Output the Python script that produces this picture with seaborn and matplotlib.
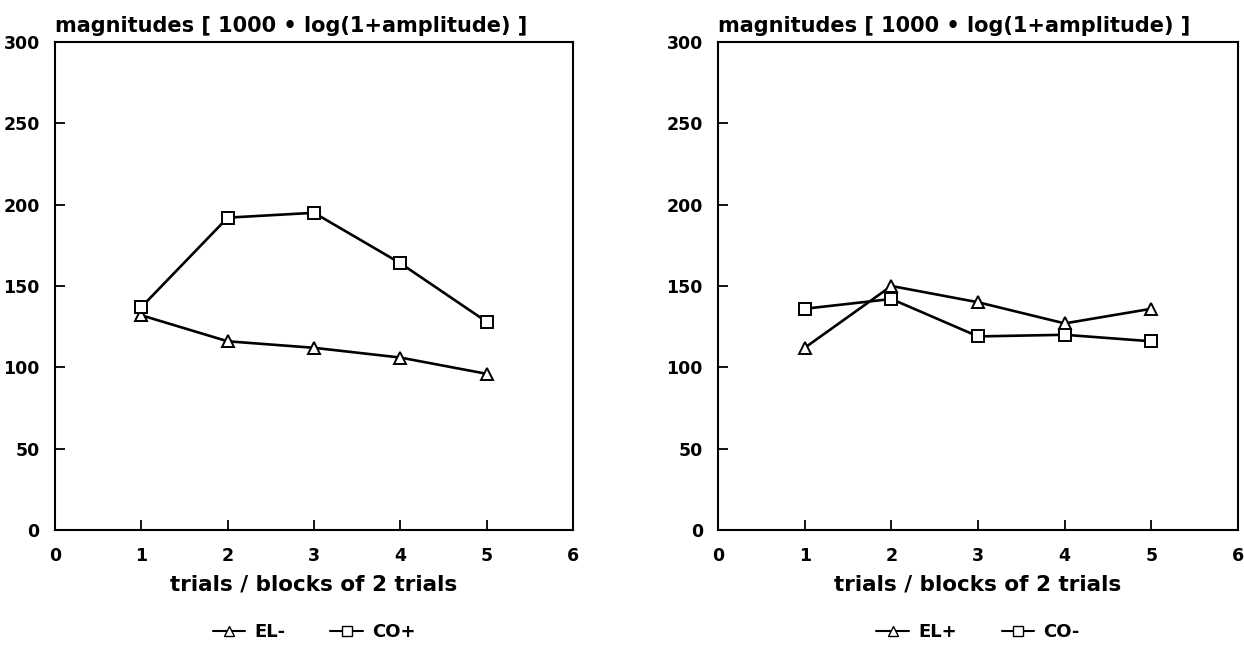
import numpy as np
import pandas as pd
import matplotlib
matplotlib.use("Agg")
import matplotlib.pyplot as plt
import seaborn as sns
from matplotlib.lines import Line2D

trials = [1, 2, 3, 4, 5]
left_el_minus = [132, 116, 112, 106, 96]
left_co_plus = [137, 192, 195, 164, 128]
right_el_plus = [112, 150, 140, 127, 136]
right_co_minus = [136, 142, 119, 120, 116]
x_ticks = [0, 1, 2, 3, 4, 5, 6]
y_ticks = [0, 50, 100, 150, 200, 250, 300]
title = "magnitudes [ 1000 \u2022 log(1+amplitude) ]"
xlabel = "trials / blocks of 2 trials"

sns.set_theme(style="white")
plt.rcParams['font.family'] = ['DejaVu Sans']
plt.rcParams['font.weight'] = 'bold'
plt.rcParams['text.color'] = 'black'
plt.rcParams['xtick.color'] = 'black'
plt.rcParams['ytick.color'] = 'black'
plt.rcParams['axes.labelcolor'] = 'black'

fig = plt.figure(figsize=(12.44, 6.51), dpi=100)
axL = fig.add_axes([0.0442, 0.1859, 0.4164, 0.7496])
axR = fig.add_axes([0.5772, 0.1859, 0.4180, 0.7496])

panels = [
    (axL, [("EL-", left_el_minus), ("CO+", left_co_plus)]),
    (axR, [("EL+", right_el_plus), ("CO-", right_co_minus)]),
]

for ax, series in panels:
    rows = []
    for name, vals in series:
        for t, v in zip(trials, vals):
            rows.append({"trial": t, "value": v, "series": name})
    df = pd.DataFrame(rows)
    names = [s[0] for s in series]
    sns.lineplot(data=df, x="trial", y="value", style="series", style_order=names,
                 markers={names[0]: "^", names[1]: "s"},
                 dashes={names[0]: "", names[1]: ""},
                 color="black", linewidth=1.9, markersize=8,
                 markerfacecolor="white", markeredgecolor="black", markeredgewidth=1.4,
                 ax=ax, legend=False)
    ax.set_xlim(0, 6)
    ax.set_ylim(0, 300)
    ax.set_xticks(x_ticks)
    ax.set_yticks(y_ticks)
    ax.tick_params(direction="in", length=7, width=1.3, labelsize=12.5, pad=12,
                   left=True, bottom=True)
    ax.tick_params(axis="y", pad=11)
    for lab in ax.get_xticklabels() + ax.get_yticklabels():
        lab.set_fontweight("bold")
    for sp in ax.spines.values():
        sp.set_color("black")
        sp.set_linewidth(1.5)
    ax.set_xlabel(xlabel, fontsize=15.5, fontweight="bold", labelpad=7)
    ax.set_ylabel("")
    ax.text(0.0, 1.012, title, transform=ax.transAxes, fontsize=15,
            fontweight="bold", ha="left", va="bottom")
    handles = [
        Line2D([], [], color="black", linewidth=1.5, marker="^", markersize=7,
               markerfacecolor="white", markeredgecolor="black"),
        Line2D([], [], color="black", linewidth=1.5, marker="s", markersize=7,
               markerfacecolor="white", markeredgecolor="black"),
    ]
    ax.legend(handles, names, loc="center", bbox_to_anchor=(0.5, -0.21),
              ncol=2, frameon=False, handlelength=1.8, handletextpad=0.5,
              columnspacing=2.5, borderpad=0.1,
              prop={"weight": "bold", "size": 13})

fig.savefig("out.png", dpi=100, facecolor="white")
